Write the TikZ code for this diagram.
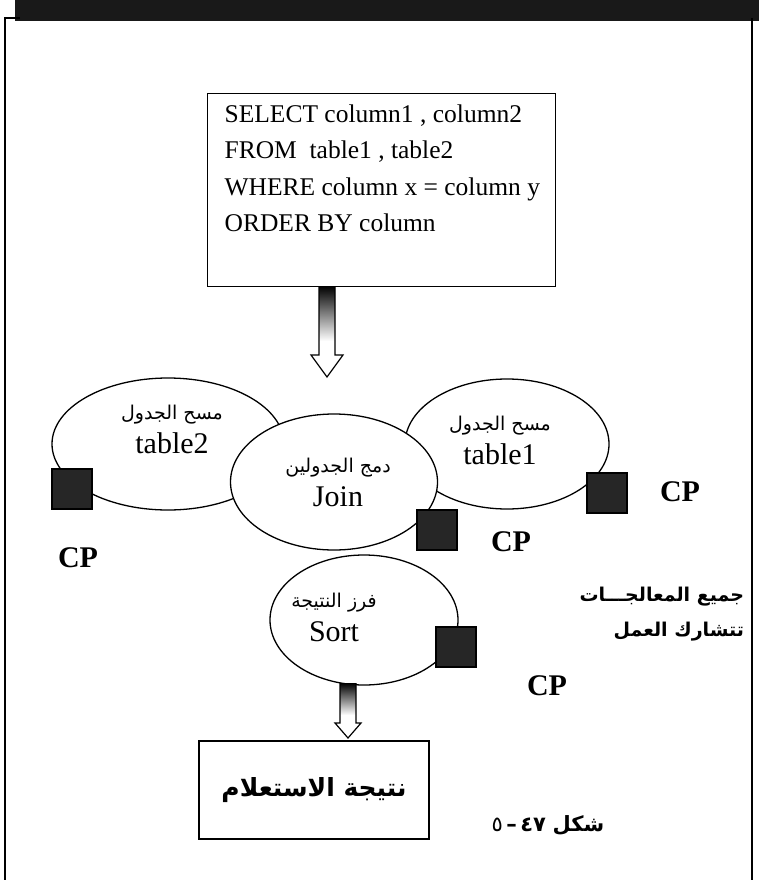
\documentclass[tikz,border=0pt]{standalone}
\usepackage{fontspec}
\setmainfont{Liberation Serif}
\newfontfamily\arabicfont[Script=Arabic]{DejaVu Sans}
\TeXXeTstate=1
\usetikzlibrary{shapes.geometric,calc}

\tikzset{
  oval/.style={draw, ellipse, line width=1.3pt, fill=white, inner sep=0pt},
  cpbox/.style={draw, fill=black!85, minimum size=40pt, inner sep=0pt},
  cplabel/.style={font=\fontsize{30}{30}\selectfont\bfseries},
  ovaltext/.style={align=center, font=\fontsize{30}{34}\selectfont},
  blockarrow/.style={draw, line width=1.2pt, fill=white}
}
\newcommand{\artext}[1]{{\arabicfont\fontsize{19}{24}\selectfont\beginR #1\endR}}

\begin{document}
\begin{tikzpicture}[x=1pt, y=-1pt, line width=1.2pt]
  \useasboundingbox (0,0) rectangle (759,880);

  % scanned band and page frame
  \fill[black!90] (15,0) rectangle (759,21);
  \draw[line width=2.5pt] (5,880) -- (5,18) -- (20,18);
  \draw[line width=2pt] (752,18) -- (752,880);

  % query box
  \node[draw, line width=1.3pt, minimum width=348pt, minimum height=193pt,
        anchor=north west] (query) at (207,93) {};
  \node[anchor=north west, align=left, inner sep=0pt,
        font=\fontsize{25.5}{36.5}\selectfont] (sql) at (224,104)
    {SELECT column1 , column2\\
     FROM\ \ table1 , table2\\
     WHERE column x = column y\\
     ORDER BY column};

  % operations
  \node[oval, minimum width=232pt, minimum height=132pt] (scan2) at (168,444) {};
  \node[oval, minimum width=204pt, minimum height=130pt] (scan1) at (507,444) {};
  \node[oval, minimum width=188pt, minimum height=130pt] (sort) at (364,620) {};
  \node[oval, minimum width=207pt, minimum height=136pt] (join) at (334,482) {};

  \node[ovaltext] (scan2txt) at (172,429) {\artext{مسح الجدول}\\table2};
  \node[ovaltext] (scan1txt) at (500,440) {\artext{مسح الجدول}\\table1};
  \node[ovaltext] (jointxt) at (338,482) {\artext{دمج الجدولين}\\Join};
  \node[ovaltext] (sorttxt) at (334,617) {\artext{فرز النتيجة}\\Sort};

  % processors
  \node[cpbox] (cp2) at (72,489) {};
  \node[cpbox] (cpj) at (437,530) {};
  \node[cpbox] (cp1) at (607,493) {};
  \node[cpbox] (cps) at (456,647) {};

  \node[cplabel] (cp2lbl) at (78,558) {CP};
  \node[cplabel] (cpjlbl) at (511,542) {CP};
  \node[cplabel] (cp1lbl) at (680,492) {CP};
  \node[cplabel] (cpslbl) at (547,686) {CP};

  \node[anchor=east, align=right, font=\arabicfont\bfseries\fontsize{19}{35}\selectfont]
    (note) at (748,614) {\beginR جميع المعالجـــات\endR\\\beginR تتشارك العمل\endR};

  % result
  \node[draw, line width=1.3pt, minimum width=230pt, minimum height=98pt,
        font=\arabicfont\bfseries\fontsize{25}{30}\selectfont] (result) at (314,790)
    {\beginR نتيجة الاستعلام\endR};

  \node[font=\arabicfont\fontsize{21}{24}\selectfont] (caption) at (548,825)
    {\mbox{٥}\mbox{\,\textbf{–}\,}\mbox{\bfseries ٤٧}\ \mbox{\bfseries\beginR شكل\endR}};

  % block arrows
  \coordinate (a1) at (327,286);
  \coordinate (a2) at (348,683);
  \shade[top color=black, bottom color=white] ($(a1)+(-8,0)$) rectangle ($(a1)+(8,55)$);
  \draw[line width=1.2pt] ($(a1)+(-8,0)$) -- ++(0,69) -- ++(-8,0) -- ($(a1)+(0,91)$)
    -- ($(a1)+(16,69)$) -- ++(-8,0) -- ($(a1)+(8,0)$);
  \shade[top color=black, bottom color=white] ($(a2)+(-8,0)$) rectangle ($(a2)+(8,32)$);
  \draw[line width=1.2pt] ($(a2)+(-8,0)$) -- ++(0,40) -- ++(-5,0) -- ($(a2)+(0,55)$)
    -- ($(a2)+(13,40)$) -- ++(-5,0) -- ($(a2)+(8,0)$);
\end{tikzpicture}
\end{document}
